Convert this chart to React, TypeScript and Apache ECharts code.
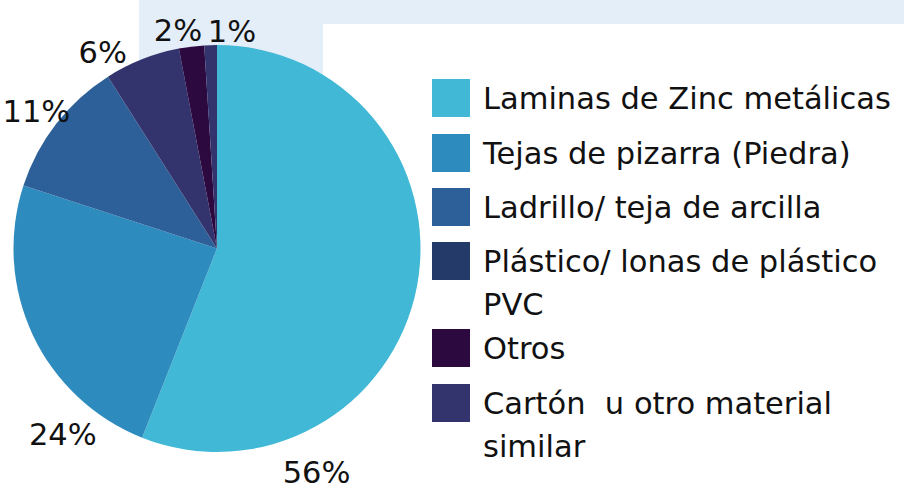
import React, { useEffect, useRef } from "react";
import * as echarts from "echarts";

const categories = [
  "Laminas de Zinc metálicas",
  "Tejas de pizarra (Piedra)",
  "Ladrillo/ teja de arcilla",
  "Plástico/ lonas de plástico PVC",
  "Otros",
  "Cartón  u otro material similar",
];
const values = [56, 24, 11, 6, 2, 1];
const legendLines = [
  ["Laminas de Zinc metálicas"],
  ["Tejas de pizarra (Piedra)"],
  ["Ladrillo/ teja de arcilla"],
  ["Plástico/ lonas de plástico", "PVC"],
  ["Otros"],
  ["Cartón  u otro material", "similar"],
];

const sliceColors = ["#41B8D6", "#2E8BBE", "#2D6098", "#33346E", "#2C0A3F", "#33346E"];
const legendColors = ["#41B8D6", "#2E8BBE", "#2D6098", "#243A68", "#2C0A3F", "#33346E"];
const labelNudges = [
  [-120, 182],
  [48, 91],
  [-4, 0],
  [-32, 12],
  [-11, 4],
  [22, 6],
];
const legendIconCenters = [98, 153, 207, 261, 348, 403];

const FONT = "DejaVu Sans";
const FS = 30.5;
const LH = 43;

export default function App() {
  const ref = useRef<HTMLDivElement>(null);
  useEffect(() => {
    if (!ref.current) return;
    const chart = echarts.init(ref.current, undefined, { renderer: "svg" });
    const legends = categories.map((name, i) => {
      const lines = legendLines[i];
      const twoLine = lines.length > 1;
      // for wrapped items, an empty leading line keeps the first line level with the swatch
      const shown = twoLine ? [" ", ...lines] : lines;
      const top = legendIconCenters[i] - (twoLine ? 64.5 : 21.5);
      return {
        show: true,
        orient: "vertical",
        left: 432,
        top,
        padding: 0,
        itemWidth: 38,
        itemHeight: 38,
        icon: "rect",
        selectedMode: false,
        itemStyle: { borderWidth: 0 },
        formatter: () => shown.join("\n"),
        textStyle: {
          fontFamily: FONT,
          fontSize: FS,
          color: "#111111",
          lineHeight: LH,
          padding: [0, 0, 0, 8],
        },
        data: [{ name, itemStyle: { color: legendColors[i], borderWidth: 0 } }],
      };
    });
    chart.setOption({
      animation: false,
      backgroundColor: "#ffffff",
      graphic: [
        { type: "rect", z: -10, shape: { x: 139, y: 0, width: 765, height: 24 }, style: { fill: "#E4EEF8" } },
        { type: "rect", z: -10, shape: { x: 139, y: 0, width: 184, height: 120 }, style: { fill: "#E4EEF8" } },
      ],
      legend: legends,
      series: [
        {
          type: "pie",
          center: [217, 248.5],
          radius: [0, 203.5],
          startAngle: 90,
          clockwise: true,
          avoidLabelOverlap: false,
          itemStyle: { borderWidth: 0 },
          emphasis: { disabled: true },
          label: {
            show: true,
            position: "outside",
            formatter: (p: any) => `${p.value}%`,
            fontFamily: FONT,
            fontSize: FS,
            color: "#111111",
            distanceToLabelLine: 0,
          },
          labelLine: { show: false, length: 20, length2: 0 },
          labelLayout: (p: any) => ({
            dx: labelNudges[p.dataIndex][0],
            dy: labelNudges[p.dataIndex][1],
            align: "center",
            verticalAlign: "middle",
          }),
          data: categories.map((name, i) => ({
            name,
            value: values[i],
            itemStyle: { color: sliceColors[i] },
          })),
        },
      ],
    });
    return () => chart.dispose();
  }, []);
  return (
    <div
      ref={ref}
      style={{ position: "absolute", left: 0, top: 0, width: 904, height: 489 }}
    />
  );
}
